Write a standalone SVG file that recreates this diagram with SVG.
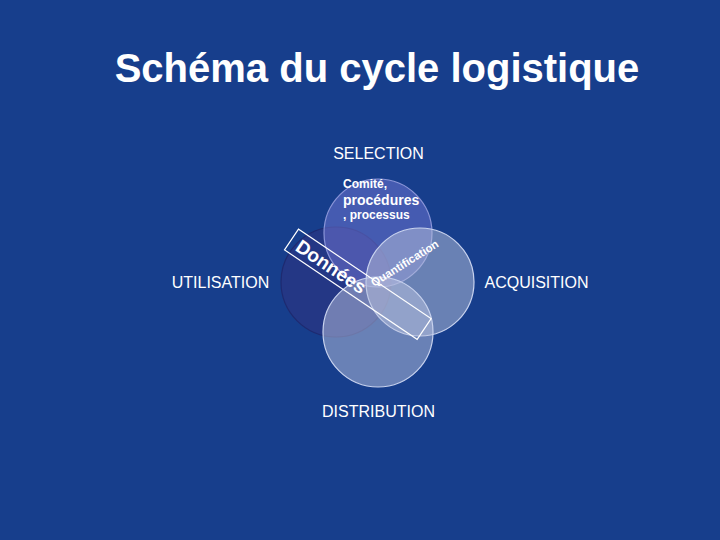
<svg xmlns="http://www.w3.org/2000/svg" width="720" height="540" viewBox="0 0 720 540">
<style>
.t{font-family:"Liberation Sans",Arial,sans-serif;fill:#ffffff}
.lbl{font-size:16px;text-anchor:middle}
.b{font-weight:bold}
.c{fill-opacity:0.5;stroke-width:1.2}
</style>
<rect width="720" height="540" fill="#173e8c"/>
<text class="t b" x="377" y="82" font-size="40" text-anchor="middle">Schéma du cycle logistique</text>
<g id="circles">
<circle id="c-left" class="c" cx="336" cy="282" r="55" fill="#32307e" stroke="#1e2a70"/>
<circle id="c-top" class="c" cx="378" cy="233" r="54" fill="#7478d6" stroke="#8a95d8"/>
<circle id="c-right" class="c" cx="420" cy="282" r="54" fill="#bcc4dc" stroke="#c8d2ee"/>
<circle id="c-bottom" class="c" cx="378" cy="332" r="55" fill="#bcc4e0" stroke="#c8d2ee"/>
</g>
<g id="selection"><text class="t lbl" x="378.5" y="159">SELECTION</text></g>
<g id="utilisation"><text class="t lbl" x="220.5" y="288">UTILISATION</text></g>
<g id="acquisition"><text class="t lbl" x="536.5" y="288">ACQUISITION</text></g>
<g id="distribution"><text class="t lbl" x="378.5" y="417">DISTRIBUTION</text></g>
<g id="comite">
<text class="t b" x="343" y="188" font-size="12">Comité,</text>
<text class="t b" x="343" y="205" font-size="14">procédures</text>
<text class="t b" x="343" y="219" font-size="12">, processus</text>
</g>
<g id="donnees" transform="translate(291.5,239.5) rotate(34)">
<rect x="0" y="-12.5" width="160" height="25" fill="none" stroke="#ffffff" stroke-width="1.2"/>
<text class="t b" x="8" y="7" font-size="19">Données</text>
</g>
<g id="quantification">
<text class="t b" transform="translate(374,287) rotate(-32)" font-size="11.5">Quantification</text>
</g>
</svg>
